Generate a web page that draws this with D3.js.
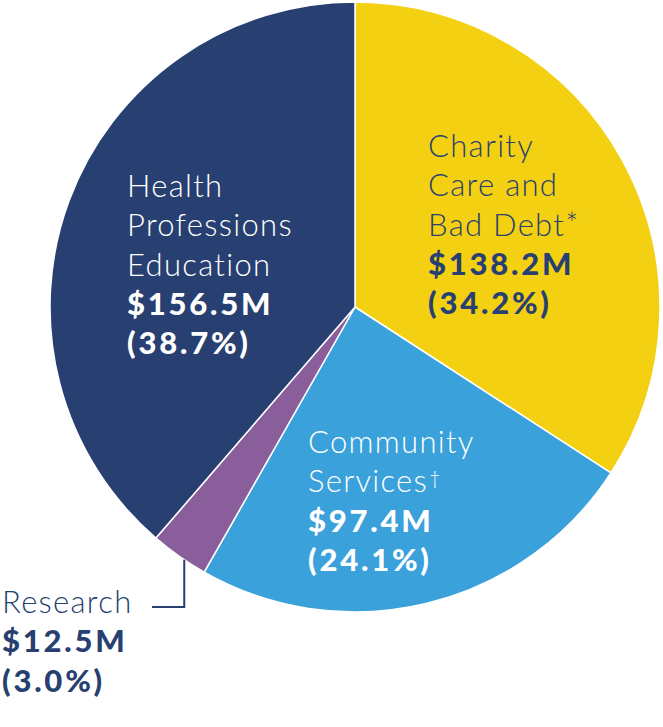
<!DOCTYPE html>
<html>
<head>
<meta charset="utf-8">
<script src="https://cdn.jsdelivr.net/npm/d3@7"></script>
<style>
  body { margin: 0; background: #fff; }
  svg { display: block; }
  text { font-family: Lato, "Open Sans", sans-serif; }
</style>
</head>
<body>
<div id="chart"></div>
<script>
// data
const categories = ["Charity Care and Bad Debt", "Community Services", "Research", "Health Professions Education"];
const amounts = [138.2, 97.4, 12.5, 156.5];          // $M
const percents = [34.2, 24.1, 3.0, 38.7];
const labelLines = [
  ["Charity", "Care and", "Bad Debt"],
  ["Community", "Services"],
  ["Research"],
  ["Health", "Professions", "Education"]
];
const footMarks = ["*", "\u2020", "", ""];

const colors = ["#f3d012", "#3aa1db", "#8a5e9b", "#283f71"];
const navy = "#283f71";

// set the dimensions of the graph
var width = 663, height = 727;
var cx = 355, cy = 307, radius = 305;

const svg = d3.select("#chart")
  .append("svg")
  .attr("width", width)
  .attr("height", height);

const g = svg.append("g")
  .attr("transform", `translate(${cx}, ${cy})`);

const data = categories.map((c, i) => ({ name: c, amount: amounts[i], pct: percents[i], lines: labelLines[i], mark: footMarks[i], color: colors[i] }));

const pie = d3.pie().sort(null).value(d => d.amount);
const arc = d3.arc().innerRadius(0).outerRadius(radius);
const arcs = pie(data);

// slices
g.selectAll("path.slice")
  .data(arcs)
  .join("path")
  .attr("class", "slice")
  .attr("d", arc)
  .attr("fill", d => d.data.color)
  .attr("stroke", "#fff")
  .attr("stroke-width", 1.5)
  .attr("stroke-linejoin", "round");

// label placement (offsets from centre), text colour
const labelPos = [
  { x: 73, y: -150, fill: navy },
  { x: -47, y: 146, fill: "#fff" },
  { x: -353, y: 306, fill: navy },
  { x: -228, y: -110, fill: "#fff" }
];
const lineH = 39.3;

arcs.forEach((a, i) => {
  const p = labelPos[i];
  const t = g.append("text")
    .attr("fill", p.fill)
    .style("font-size", "31px");
  const lines = a.data.lines;
  const n = lines.length;
  lines.forEach((l, j) => {
    t.append("tspan")
      .attr("x", p.x)
      .attr("y", p.y + j * lineH)
      .style("font-weight", 300)
      .style("letter-spacing", "1.3px")
      .text(l);
  });
  if (a.data.mark === "*") {
    t.append("tspan")
      .attr("y", p.y + (n - 1) * lineH - 1)
      .style("font-weight", 300)
      .style("font-size", "31px")
      .text(a.data.mark);
  } else if (a.data.mark) {
    t.append("tspan")
      .attr("y", p.y + (n - 1) * lineH - 7)
      .attr("dx", 1)
      .style("font-weight", 300)
      .style("font-size", "20px")
      .text(a.data.mark);
  }
  t.append("tspan")
    .attr("x", p.x)
    .attr("y", p.y + n * lineH)
    .style("font-weight", 900)
    .style("letter-spacing", "2.8px")
    .text("$" + d3.format(".1f")(a.data.amount) + "M");
  t.append("tspan")
    .attr("x", p.x)
    .attr("y", p.y + (n + 1) * lineH)
    .style("font-weight", 900)
    .style("letter-spacing", "2.8px")
    .text("(" + d3.format(".1f")(a.data.pct) + "%)");
});

// leader line for the small Research slice
const r = arcs[2];
const mid = (r.startAngle + r.endAngle) / 2 - 0.02;
const px = radius * Math.sin(mid), py = -radius * Math.cos(mid);
g.append("path")
  .attr("d", `M${px},${py}V${labelPos[2].y - 6}H${labelPos[2].x + 150}`)
  .attr("fill", "none")
  .attr("stroke", navy)
  .attr("stroke-width", 2);
</script>
</body>
</html>
